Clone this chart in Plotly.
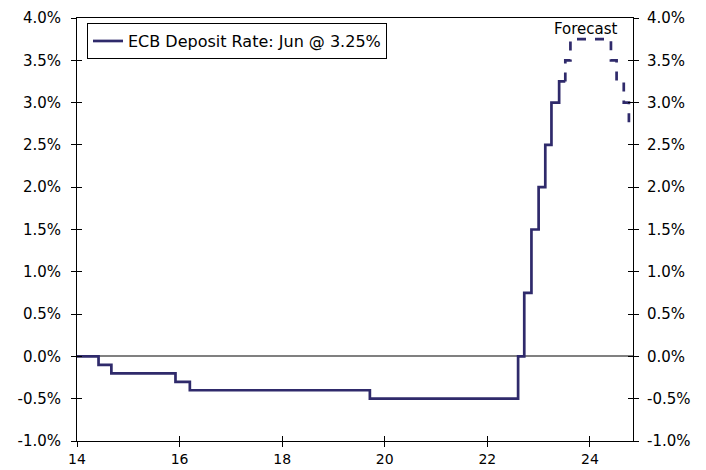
import plotly.graph_objects as go

# Actual ECB deposit rate (x in years since 2000, step changes)
x_actual = [14.0, 14.42, 14.67, 15.92, 16.2, 19.71, 22.6, 22.72, 22.86, 23.0, 23.13, 23.25, 23.4, 23.52]
y_actual = [0.0, -0.10, -0.20, -0.30, -0.40, -0.50, 0.0, 0.75, 1.50, 2.00, 2.50, 3.00, 3.25, 3.25]

# Forecast path
x_forecast = [23.52, 23.62, 24.41, 24.52, 24.66, 24.76, 24.84]
y_forecast = [3.25, 3.50, 3.75, 3.50, 3.25, 3.00, 2.75]

x_ticks = [14, 16, 18, 20, 22, 24]
y_ticks = [-1.0, -0.5, 0.0, 0.5, 1.0, 1.5, 2.0, 2.5, 3.0, 3.5, 4.0]
y_ticklabels = [f"{v:.1f}%" for v in y_ticks]

legend_label = "ECB Deposit Rate: Jun @ 3.25%"
line_color = "#2f2a6b"
font_family = "DejaVu Sans, Verdana, sans-serif"

x_range = [14, 24.84]
y_range = [-1.0, 4.0]

fig = go.Figure()

fig.add_trace(go.Scatter(
    x=x_actual, y=y_actual, mode="lines", line_shape="hv",
    line=dict(color=line_color, width=2.7), name=legend_label,
))
fig.add_trace(go.Scatter(
    x=x_forecast, y=y_forecast, mode="lines", line_shape="vh",
    line=dict(color=line_color, width=2.7, dash="dash"), showlegend=False,
))
# invisible carriers for the auxiliary axes (right labels, inner tick halves)
for ya in ["y2", "y3", "y4"]:
    fig.add_trace(go.Scatter(x=x_actual, y=y_actual, xaxis="x2", yaxis=ya, mode="lines",
                             line=dict(width=0), opacity=0, showlegend=False, hoverinfo="skip"))

tickfont = dict(family=font_family, size=15, color="#000")
xtickfont = dict(family=font_family, size=14, color="#000")

# page body has an 8px margin, so the figure is sized/offset to compensate
fig.update_layout(
    template="none",
    width=698, height=462,
    margin=dict(l=69, r=73, t=10, b=29, autoexpand=False),
    paper_bgcolor="white", plot_bgcolor="white",
    font=dict(family=font_family, size=15, color="#000"),
    xaxis=dict(range=x_range, tickvals=x_ticks, ticktext=[str(v) for v in x_ticks],
               ticks="outside", ticklen=5, tickcolor="#000", showgrid=False, zeroline=False,
               showline=True, linecolor="#000", linewidth=1, mirror=True, tickfont=xtickfont,
               automargin=False, ticklabelstandoff=0),
    xaxis2=dict(range=x_range, overlaying="x", side="bottom", tickvals=x_ticks,
                ticks="inside", ticklen=5, tickcolor="#000", showticklabels=False,
                showgrid=False, zeroline=False, showline=False, automargin=False),
    yaxis=dict(range=y_range, tickvals=y_ticks, ticktext=y_ticklabels,
               ticks="outside", ticklen=5, tickcolor="#000", showgrid=False,
               zeroline=True, zerolinecolor="#808080", zerolinewidth=1.5,
               showline=True, linecolor="#000", linewidth=1, tickfont=tickfont,
               automargin=False, ticklabelstandoff=7),
    yaxis2=dict(range=y_range, overlaying="y", side="right", tickvals=y_ticks, ticktext=y_ticklabels,
                ticks="outside", ticklen=5, tickcolor="#000", showgrid=False, zeroline=False,
                showline=True, linecolor="#000", linewidth=1, tickfont=tickfont, automargin=False,
                ticklabelstandoff=5),
    yaxis3=dict(range=y_range, overlaying="y", side="left", tickvals=y_ticks,
                ticks="inside", ticklen=5, tickcolor="#000", showticklabels=False,
                showgrid=False, zeroline=False, showline=False, automargin=False),
    yaxis4=dict(range=y_range, overlaying="y", side="right", tickvals=y_ticks,
                ticks="inside", ticklen=5, tickcolor="#000", showticklabels=False,
                showgrid=False, zeroline=False, showline=False, automargin=False),
    legend=dict(x=0.018, y=0.988, xanchor="left", yanchor="top",
                bordercolor="#000", borderwidth=1, bgcolor="white",
                font=dict(family=font_family, size=16, color="#000"),
                itemwidth=30, tracegroupgap=0),
    showlegend=True,
    hovermode=False,
    annotations=[dict(x=23.92, y=3.87, xref="x", yref="y", text="Forecast",
                      showarrow=False, font=dict(family=font_family, size=15, color="#000"))],
)

fig.write_html("out.html")
